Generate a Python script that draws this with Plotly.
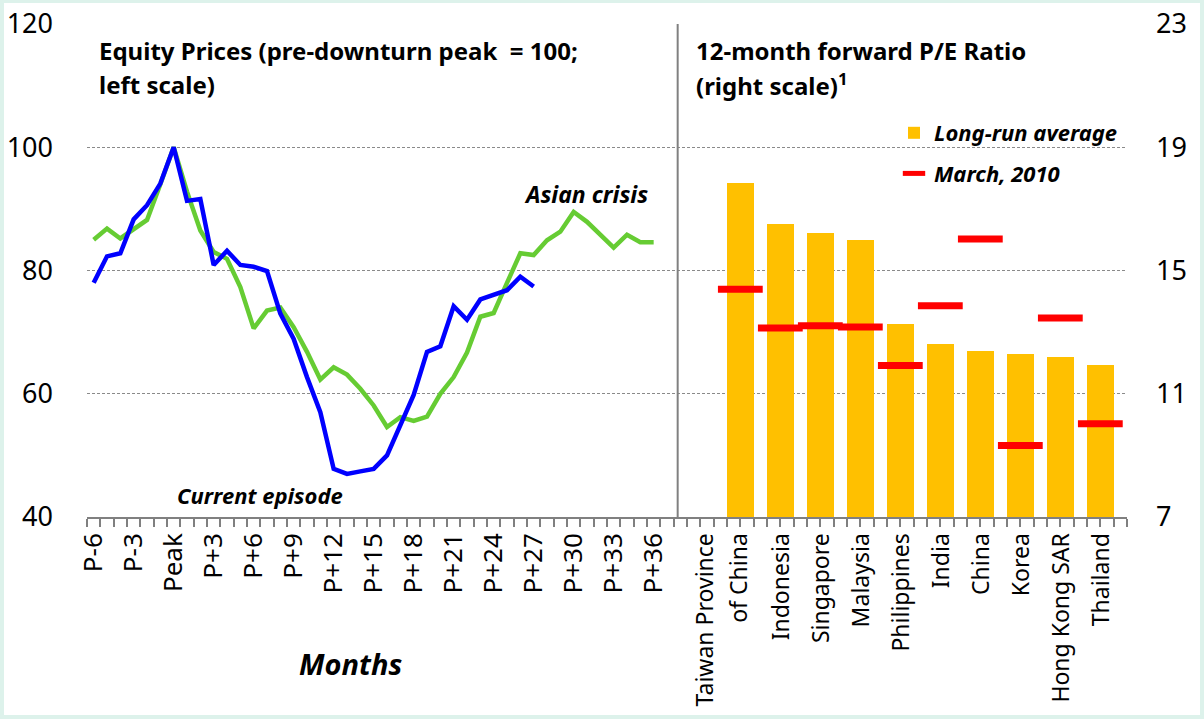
import plotly.graph_objects as go

# ---------------- data ----------------
months = ["P-6", "P-5", "P-4", "P-3", "P-2", "P-1", "Peak",
          "P+1", "P+2", "P+3", "P+4", "P+5", "P+6", "P+7", "P+8", "P+9",
          "P+10", "P+11", "P+12", "P+13", "P+14", "P+15", "P+16", "P+17",
          "P+18", "P+19", "P+20", "P+21", "P+22", "P+23", "P+24", "P+25",
          "P+26", "P+27", "P+28", "P+29", "P+30", "P+31", "P+32", "P+33",
          "P+34", "P+35", "P+36"]
month_tick_labels = ["P-6", "P-3", "Peak", "P+3", "P+6", "P+9", "P+12", "P+15",
                     "P+18", "P+21", "P+24", "P+27", "P+30", "P+33", "P+36"]

current_episode = [78.0, 82.3, 82.8, 88.3, 90.6, 94.1, 100.0,
                   91.3, 91.6, 80.9, 83.2, 80.9, 80.6, 79.9, 73.0, 68.9,
                   62.7, 57.0, 47.8, 47.0, 47.4, 47.8, 50.0, 55.1,
                   59.8, 66.8, 67.7, 74.2, 72.0, 75.3, 76.0, 76.8,
                   79.0, 77.4]
asian_crisis = [85.0, 86.8, 85.2, 86.8, 88.2, 94.0, 100.0,
                92.8, 86.5, 83.0, 81.9, 77.3, 70.6, 73.5, 74.0, 70.8,
                66.8, 62.3, 64.3, 63.1, 60.8, 58.1, 54.6, 56.2,
                55.6, 56.3, 60.0, 62.7, 66.7, 72.5, 73.1, 78.0,
                82.8, 82.5, 84.9, 86.3, 89.5, 87.9, 85.7, 83.7,
                85.8, 84.6, 84.6]

countries = ["Taiwan Province<br>of China", "Indonesia", "Singapore", "Malaysia",
             "Philippines", "India", "China", "Korea", "Hong Kong SAR", "Thailand"]
long_run_average = [17.85, 16.5, 16.23, 15.98, 13.27, 12.62, 12.38, 12.30, 12.18, 11.94]
march_2010 = [14.39, 13.13, 13.21, 13.17, 11.92, 13.86, 16.02, 9.32, 13.46, 10.03]

# ---------------- layout helpers ----------------
FONT = "Noto Sans, DejaVu Sans Condensed, sans-serif"
GREEN = "#66CC33"
BLUE = "#0000FF"
ORANGE = "#FFC000"
RED = "#FF0000"
GREY = "#808080"
MINT = "#DDF2EB"

month_x = [i + 0.5 for i in range(len(months))]
bar_start, bar_step = 49, 3
bar_x = [bar_start + bar_step * j for j in range(len(countries))]

tickvals = [month_x[months.index(lbl)] for lbl in month_tick_labels]
tickvals += [bx - (1.4 if "<br>" in c else 0) for bx, c in zip(bar_x, countries)]
country_ticktext = ["<br>".join('<span style="font-size:23px">%s</span>' % part
                                for part in c.split("<br>")) for c in countries]
ticktext = month_tick_labels + country_ticktext

fig = go.Figure()

fig.add_trace(go.Scatter(x=month_x, y=asian_crisis, mode="lines",
                         line=dict(color=GREEN, width=4.5), showlegend=False,
                         xaxis="x", yaxis="y"))
fig.add_trace(go.Scatter(x=month_x[:len(current_episode)], y=current_episode, mode="lines",
                         line=dict(color=BLUE, width=4.5), showlegend=False,
                         xaxis="x", yaxis="y"))

fig.add_trace(go.Bar(x=bar_x, y=long_run_average, width=2, marker=dict(color=ORANGE, line=dict(width=0)),
                     name="Long-run average", legendgroup="a", xaxis="x2", yaxis="y2"))
fig.add_trace(go.Scatter(x=bar_x, y=march_2010, mode="markers", name="March, 2010", legendgroup="b",
                         marker=dict(symbol="line-ew", size=32, line=dict(width=7, color=RED), color=RED),
                         xaxis="x2", yaxis="y2", cliponaxis=False))

L, R, T, B = 87, 77, 24, 202
W, H = 1204, 719
pw, ph = W - L - R, H - T - B


def px(xp):
    return (xp - L) / pw


def py(yp):
    return (H - B - yp) / ph


def label(text, x, y, size, xanchor="left", xref="paper", yref="paper"):
    return dict(xref=xref, yref=yref, x=x, y=y, xanchor=xanchor, yanchor="middle",
                align="left", showarrow=False, text=text,
                font=dict(family=FONT, size=size, color="black"))


fig.update_layout(
    width=W, height=H,
    margin=dict(l=L, r=R, t=T, b=B, autoexpand=False),
    paper_bgcolor=MINT, plot_bgcolor="white",
    font=dict(family=FONT, color="black"),
    bargap=0,
    legend=dict(x=px(894), y=py(112), xanchor="left", yanchor="top",
                bgcolor="rgba(0,0,0,0)",
                font=dict(family=FONT, size=22, style="italic", weight="bold", color="black"),
                itemwidth=30, traceorder="grouped", tracegroupgap=9),
    xaxis=dict(range=[0, 78], tickmode="linear", tick0=0, dtick=1, automargin=False,
               ticks="outside", ticklen=8, tickwidth=1.5, tickcolor=GREY,
               showticklabels=False, showline=True, linecolor=GREY, linewidth=1.5,
               showgrid=False, zeroline=False),
    xaxis2=dict(overlaying="x", anchor="y2", side="bottom", range=[0, 78], automargin=False,
                tickmode="array", tickvals=tickvals, ticktext=ticktext,
                tickangle=-90, ticks="", showline=False, showgrid=False, zeroline=False,
                tickfont=dict(family=FONT, size=26, color="black"),
                ticklabelstandoff=10),
    yaxis=dict(range=[40, 120], tickmode="linear", tick0=40, dtick=20, automargin=False,
               showgrid=True, gridcolor="#8A8A8A", griddash="3px,2px", gridwidth=1,
               ticks="", showline=False, zeroline=False,
               tickfont=dict(family=FONT, size=27, color="black"),
               ticklabelstandoff=33),
    yaxis2=dict(overlaying="y", side="right", anchor="x", range=[7, 23], automargin=False,
                tickmode="linear", tick0=7, dtick=4, showgrid=False, zeroline=False,
                ticks="", showline=False,
                tickfont=dict(family=FONT, size=27, color="black"),
                ticklabelstandoff=28),
    shapes=[
        dict(type="rect", xref="paper", yref="paper", layer="below",
             x0=px(4), x1=px(1200), y0=py(715), y1=py(3),
             fillcolor="white", line=dict(width=0)),
        dict(type="line", xref="x", yref="paper", x0=44.3, x1=44.3, y0=0, y1=1,
             line=dict(color=GREY, width=2)),
    ],
    annotations=[
        label("<b>Equity Prices (pre-downturn peak  = 100;</b>", px(97), py(50), 24),
        label("<b>left scale)</b>", px(97), py(84), 24),
        label("<b>12-month forward P/E Ratio</b>", px(694), py(50), 24),
        label("<b>(right scale)<sup>1</sup></b>", px(694), py(84), 24),
        label("<b><i>Asian crisis</i></b>", 37.4, 92.4, 23, xanchor="center", xref="x", yref="y"),
        label("<b><i>Current episode</i></b>", 13.0, 43.5, 22, xanchor="center", xref="x", yref="y"),
        label("<b><i>Months</i></b>", px(350), py(663), 29, xanchor="center"),
    ],
)

POST = ("document.body.style.margin='0';"
        "var s=document.createElement('style');"
        "s.textContent='svg text{font-stretch:condensed !important;}';"
        "document.head.appendChild(s);")

fig.write_html("out.html", config={"displayModeBar": False}, post_script=POST)
